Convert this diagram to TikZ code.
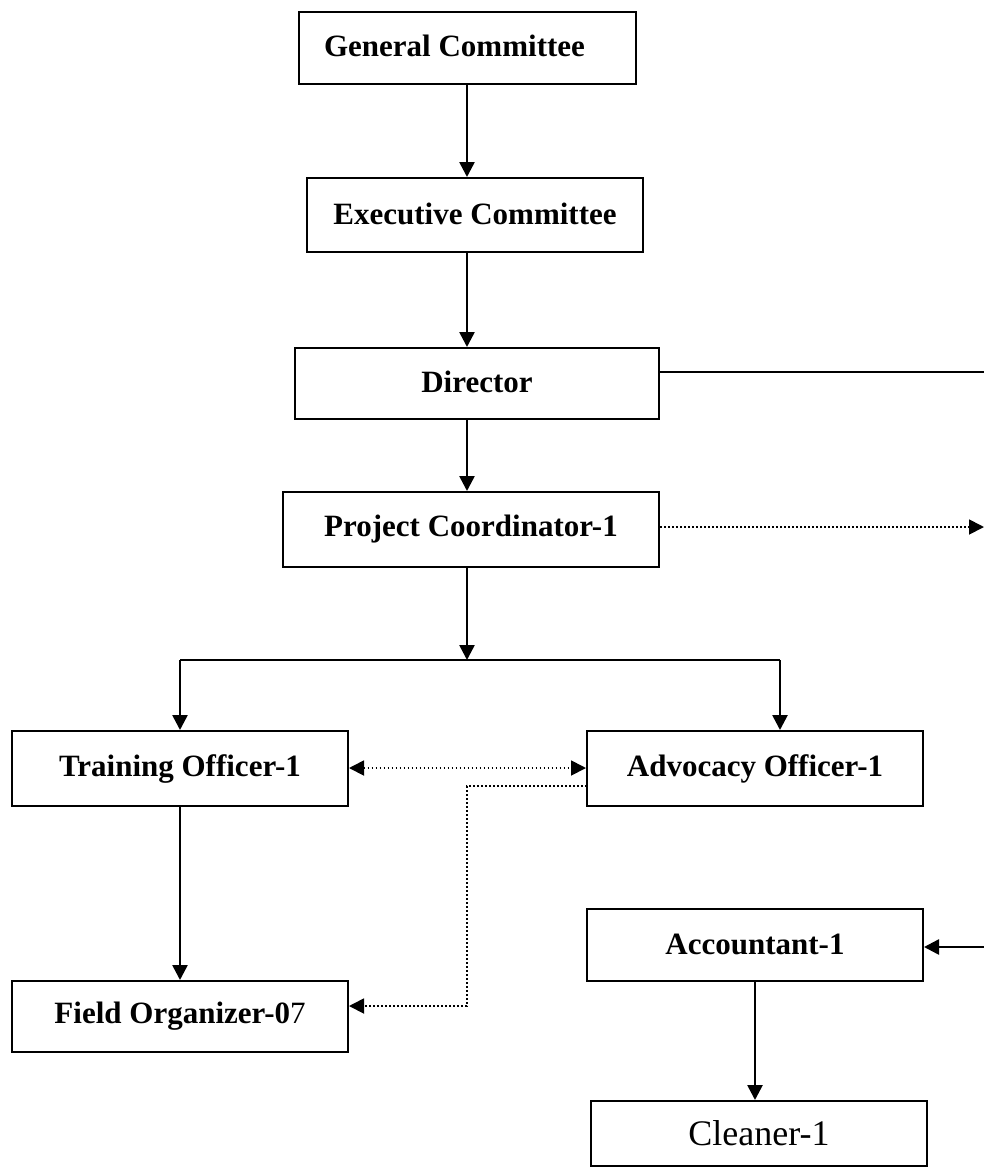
\documentclass[tikz,border=0pt]{standalone}
\usepackage{fontspec}
\setmainfont{Liberation Serif}
\usetikzlibrary{arrows.meta}
\tikzset{
  box/.style={draw, line width=2pt, inner sep=0pt, font=\fontsize{31}{36}\selectfont\bfseries},
  plainbox/.style={draw, line width=2pt, inner sep=0pt, font=\fontsize{36}{42}\selectfont},
  conn/.style={line width=2.6pt, -{Triangle[width=15pt,length=15pt]}},
  plainline/.style={line width=2.6pt},
  dotconn/.style={line width=1.8pt, dash pattern=on 1.8pt off 2.2pt},
  dothead/.style={dotconn, -{Triangle[width=15pt,length=15pt]}},
  dotboth/.style={dotconn, {Triangle[width=15pt,length=15pt]}-{Triangle[width=15pt,length=15pt]}},
}
\begin{document}
\begin{tikzpicture}[x=1pt,y=-1pt]
\useasboundingbox (0,0) rectangle (984,1168);
\node[box, minimum width=337pt, minimum height=72pt] (gc) at (467.5,48) {\hspace*{-26pt}\raisebox{4pt}{General Committee}};
\node[box, minimum width=336pt, minimum height=74pt] (ec) at (475,215) {\raisebox{2pt}{Executive Committee}};
\node[box, minimum width=364pt, minimum height=71pt] (dir) at (477,383.5) {\raisebox{3pt}{Director}};
\node[box, minimum width=376pt, minimum height=75pt] (pc) at (471,529.5) {\raisebox{2pt}{Project Coordinator-1}};
\node[box, minimum width=336pt, minimum height=75pt] (to) at (180,768.5) {\raisebox{3pt}{Training Officer-1}};
\node[box, minimum width=336pt, minimum height=75pt] (ao) at (755,768.5) {\raisebox{3pt}{Advocacy Officer-1}};
\node[box, minimum width=336pt, minimum height=71pt] (fo) at (180,1016.5) {Field Organizer-0\textmd{7}};
\node[box, minimum width=336pt, minimum height=72pt] (acc) at (755,945) {\raisebox{2pt}{Accountant-1}};
\node[plainbox, minimum width=336pt, minimum height=65pt] (cl) at (759,1133.5) {Cleaner-1};

\coordinate (ax) at (467,0);
\coordinate (jn) at (467,660);
\coordinate (jl) at (180,660);
\coordinate (jr) at (780,660);
\coordinate (dirR) at (984,372);
\coordinate (pcR) at (984,527);
\coordinate (accR) at (984,947);
\coordinate (aoL) at (587,786);
\coordinate (bend1) at (467,786);
\coordinate (bend2) at (467,1006);
\coordinate (clx) at (755,0);

\draw[conn] (gc.south -| ax) -- (ec.north -| ax);
\draw[conn] (ec.south -| ax) -- (dir.north -| ax);
\draw[conn] (dir.south -| ax) -- (pc.north -| ax);
\draw[conn] (pc.south -| ax) -- (jn);
\draw[plainline] (jl) -- (jr);
\draw[conn] (jl) -- (jl |- to.north);
\draw[conn] (jr) -- (jr |- ao.north);
\draw[conn] (to.south) -- (fo.north);
\draw[plainline] (dir.east |- dirR) -- (dirR);
\draw[dothead] (pc.east |- pcR) -- (pcR);
\draw[dotboth] (to.east |- 0,768) -- (ao.west |- 0,768);
\draw[dothead] (aoL) -- (bend1) -- (bend2) -- (fo.east |- bend2);
\draw[conn] (accR) -- (acc.east |- accR);
\draw[conn] (acc.south -| clx) -- (cl.north -| clx);
\end{tikzpicture}
\end{document}
